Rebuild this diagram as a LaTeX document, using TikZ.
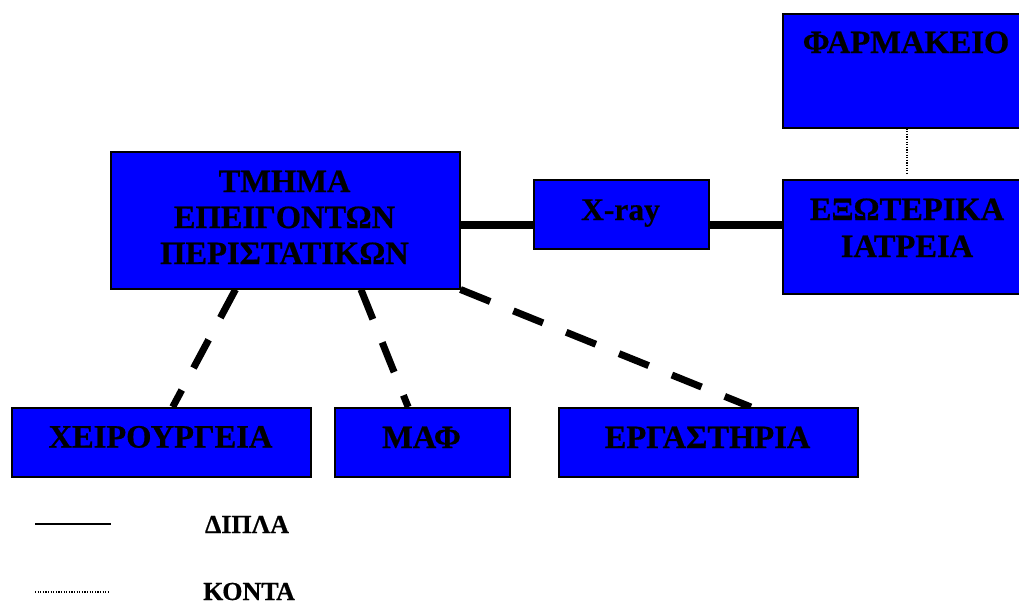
\documentclass[tikz,border=0pt]{standalone}
\usepackage{fontspec}
\setmainfont{Liberation Serif}
\newfontfamily\boxfont[BoldFeatures={FakeBold=0.6}]{Liberation Serif}
\usetikzlibrary{calc,backgrounds}
\definecolor{boxblue}{RGB}{0,0,255}
\begin{document}
\begin{tikzpicture}[x=1pt,y=-1pt,
  box/.style={draw=black,line width=1.5pt,fill=boxblue,inner sep=0pt,anchor=north west},
  lbl/.style={font=\boxfont\fontsize{32.5}{36}\selectfont\bfseries,inner sep=0pt,anchor=base},
  smalllbl/.style={font=\boxfont\fontsize{31.5}{36}\selectfont\bfseries,inner sep=0pt,anchor=base},
  leg/.style={font=\boxfont\fontsize{26}{30}\selectfont\bfseries,inner sep=0pt,anchor=base},
  solidlink/.style={line width=8pt},
  dashlink/.style={line width=7pt,dash pattern=on 32pt off 25pt},
  dotlink/.style={line width=1.2pt,dash pattern=on 1.2pt off 1.4pt},
  legline/.style={line width=2pt}]
\useasboundingbox (0,0) rectangle (1019,605);

% boxes
\node[box,minimum width=349pt,minimum height=137pt] (tm) at (110,151) {};
\node[box,minimum width=175pt,minimum height=69pt] (xr) at (533,179) {};
\node[box,minimum width=240pt,minimum height=114pt] (ex) at (782,179) {};
\node[box,minimum width=240pt,minimum height=114pt] (fa) at (782,13) {};
\node[box,minimum width=299pt,minimum height=69pt] (xe) at (11,407) {};
\node[box,minimum width=175pt,minimum height=69pt] (ma) at (334,407) {};
\node[box,minimum width=299pt,minimum height=69pt] (er) at (558,407) {};

% texts
\node[lbl] (tm1) at (284.5,192) {ΤΜΗΜΑ};
\node[lbl] (tm2) at (284.5,228) {ΕΠΕΙΓΟΝΤΩΝ};
\node[lbl] (tm3) at (284.5,264) {ΠΕΡΙΣΤΑΤΙΚΩΝ};
\node[smalllbl] (xrt) at (620.5,220) {X-ray};
\node[lbl] (ex1) at (907,220) {ΕΞΩΤΕΡΙΚΑ};
\node[lbl] (ex2) at (907,257) {ΙΑΤΡΕΙΑ};
\node[lbl] (fat) at (906,53) {ΦΑΡΜΑΚΕΙΟ};
\node[lbl] (xet) at (160.5,447.5) {ΧΕΙΡΟΥΡΓΕΙΑ};
\node[lbl] (mat) at (421.5,448) {ΜΑΦ};
\node[lbl] (ert) at (707.5,448) {ΕΡΓΑΣΤΗΡΙΑ};

% connectors
\coordinate (hl) at (0,225);
\coordinate (dotend) at (907,173);
\begin{scope}[on background layer]
\draw[solidlink] (tm.east |- hl) -- (xr.west |- hl);
\draw[solidlink] (xr.east |- hl) -- (ex.west |- hl);
\draw[dotlink] (fa.south -| dotend) -- (dotend);
\draw[dashlink] ($(tm.south west)!0.358!(tm.south east)$) -- ($(xe.north west)!0.538!(xe.north east)$);
\draw[dashlink] ($(tm.south west)!0.716!(tm.south east)$) -- ($(ma.north west)!0.42!(ma.north east)$);
\draw[dashlink] (tm.south east) -- ($(er.north west)!0.642!(er.north east)$);
\end{scope}

% legend
\coordinate (s1) at (35,524);
\coordinate (s2) at (111,524);
\draw[legline] (s1) -- (s2);
\node[leg] (dipla) at (247,533) {ΔΙΠΛΑ};
\coordinate (d1) at (35,592);
\coordinate (d2) at (110,592);
\draw[dotlink] (d1) -- (d2);
\node[leg] (konta) at (249,600) {ΚΟΝΤΑ};
\end{tikzpicture}
\end{document}
